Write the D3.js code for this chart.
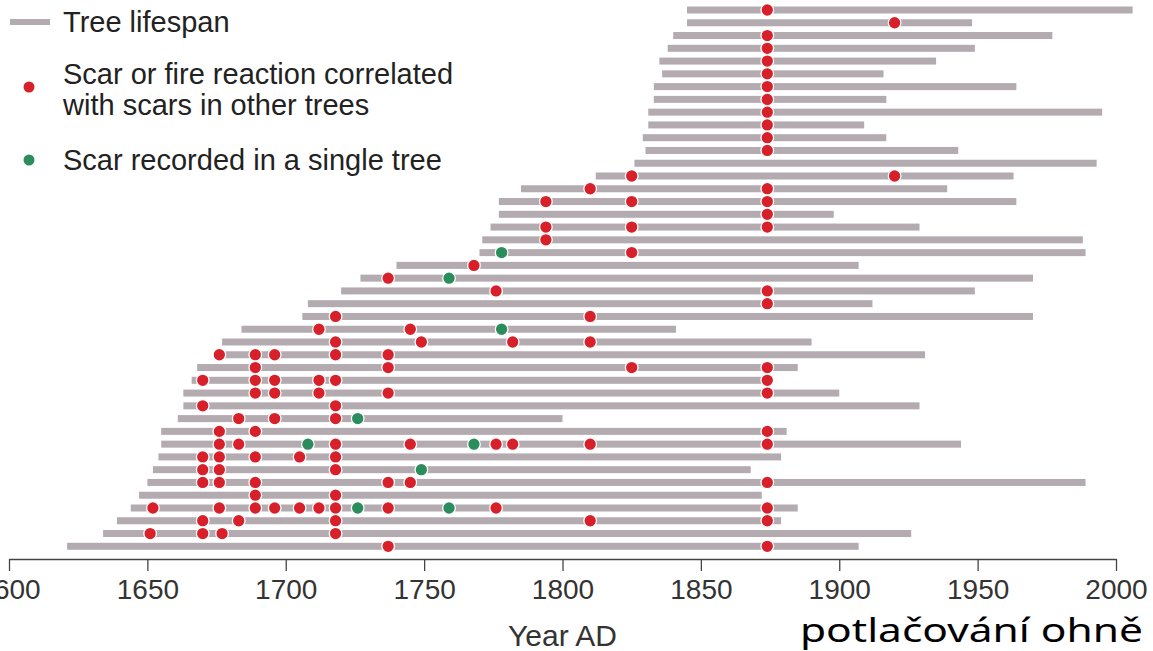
<!DOCTYPE html>
<html>
<head>
<meta charset="utf-8">
<script src="https://cdn.jsdelivr.net/npm/d3@7"></script>
<style>
  body { margin: 0; background: #fff; }
  svg { display: block; }
</style>
</head>
<body>
<div id="chart"></div>
<script>
// tree lifespans, top row first (years AD)
var lifeStart = [1845, 1845, 1840, 1838, 1835, 1836, 1833, 1833, 1831, 1831, 1829, 1830, 1826,
  1812, 1785, 1777, 1777, 1774, 1771, 1770, 1740, 1727, 1720, 1708, 1706, 1684, 1677,
  1674, 1668, 1666, 1663, 1663, 1661, 1655, 1655, 1654, 1652, 1650, 1647, 1644, 1639, 1634, 1621];
var lifeEnd = [2006, 1948, 1977, 1949, 1935, 1916, 1964, 1917, 1995, 1909, 1917, 1943, 1993,
  1963, 1939, 1964, 1898, 1929, 1988, 1989, 1907, 1970, 1949, 1912, 1970, 1841, 1890,
  1931, 1885, 1876, 1900, 1929, 1800, 1881, 1944, 1879, 1868, 1989, 1872, 1885, 1879, 1926, 1907];

// scars correlated with other trees (red)
var fireScars = [
  [1874], [1920], [1874], [1874], [1874], [1874], [1874], [1874], [1874], [1874], [1874], [1874], [],
  [1825, 1920], [1810, 1874], [1794, 1825, 1874], [1874], [1794, 1825, 1874], [1794], [1825],
  [1768], [1737], [1776, 1874], [1874], [1718, 1810], [1712, 1745], [1718, 1749, 1782, 1810],
  [1676, 1689, 1696, 1718, 1737], [1689, 1737, 1825, 1874], [1670, 1689, 1696, 1712, 1718, 1874],
  [1689, 1696, 1712, 1737, 1874], [1670, 1718], [1683, 1696, 1718], [1676, 1689, 1874],
  [1676, 1683, 1718, 1745, 1776, 1782, 1810, 1874], [1670, 1676, 1689, 1705, 1718],
  [1670, 1676, 1718], [1670, 1676, 1689, 1737, 1745, 1874], [1689, 1718],
  [1652, 1676, 1689, 1696, 1705, 1712, 1718, 1737, 1776, 1874], [1670, 1683, 1718, 1810, 1874],
  [1651, 1670, 1677, 1718], [1737, 1874]
];

// scars found in one tree only (green)
var singleScars = [
  [], [], [], [], [], [], [], [], [], [], [], [], [],
  [], [], [], [], [], [], [1778],
  [], [1759], [], [], [], [1778], [],
  [], [], [],
  [], [], [1726], [],
  [1708, 1768], [],
  [1749], [], [],
  [1726, 1759], [],
  [], []
];

var yearTicks = [1600, 1650, 1700, 1750, 1800, 1850, 1900, 1950, 2000];

var legendItems = ["Tree lifespan", "Scar or fire reaction correlated", "with scars in other trees",
  "Scar recorded in a single tree"];

var w = 1153;
var h = 651;
var barColor = "#b3abb0";
var redColor = "#d8202b";
var greenColor = "#2b8c5c";
var font = "'Liberation Sans', Arial, sans-serif";

var svg = d3.select("#chart")
  .append("svg")
  .attr("width", w)
  .attr("height", h);

var x = d3.scaleLinear().domain([1600, 2000]).range([9, 1116]);
var y = d3.scaleLinear().domain([0, lifeStart.length - 1]).range([10, 546.3]);

var rows = lifeStart.map(function(s, i) {
  return { start: s, end: lifeEnd[i], red: fireScars[i], green: singleScars[i], i: i };
});

// lifespans
svg.append("g")
  .selectAll("rect")
  .data(rows)
  .enter()
  .append("rect")
  .attr("x", function(d) { return x(d.start); })
  .attr("y", function(d) { return y(d.i) - 3.5; })
  .attr("width", function(d) { return x(d.end) - x(d.start); })
  .attr("height", 7)
  .attr("fill", barColor);

function dots(key, color) {
  var pts = [];
  rows.forEach(function(r) {
    r[key].forEach(function(yr) { pts.push({ year: yr, i: r.i }); });
  });
  svg.append("g")
    .selectAll("circle")
    .data(pts)
    .enter()
    .append("circle")
    .attr("cx", function(d) { return x(d.year); })
    .attr("cy", function(d) { return y(d.i); })
    .attr("r", 6.3)
    .attr("fill", color)
    .attr("stroke", "#fff")
    .attr("stroke-width", 1.3);
}
dots("red", redColor);
dots("green", greenColor);

// axis
var axis = svg.append("g")
  .attr("transform", "translate(0,559)")
  .call(d3.axisBottom(x).tickValues(yearTicks).tickSize(12).tickSizeOuter(0).tickPadding(8)
    .tickFormat(d3.format("d")));
axis.select(".domain").attr("stroke", "#444").attr("stroke-width", 1.5);
axis.selectAll(".tick line").attr("stroke", "#444").attr("stroke-width", 1.3);
axis.selectAll(".tick text")
  .attr("fill", "#333")
  .style("font-family", font)
  .style("font-size", "28px");

svg.append("text")
  .attr("x", x(1800))
  .attr("y", 646)
  .attr("text-anchor", "middle")
  .attr("fill", "#333")
  .style("font-family", font)
  .style("font-size", "30px")
  .text("Year AD");

svg.append("text")
  .attr("x", 1143)
  .attr("y", 642)
  .attr("text-anchor", "end")
  .attr("fill", "#000")
  .attr("textLength", 343)
  .attr("lengthAdjust", "spacingAndGlyphs")
  .style("font-family", "'Noto Sans', sans-serif")
  .style("font-size", "33px")
  .text("potlačování ohně");

// legend
var lg = svg.append("g").style("font-family", font)
  .style("font-size", "29px").attr("fill", "#222");
lg.append("line").attr("x1", 10).attr("x2", 50).attr("y1", 22).attr("y2", 22)
  .attr("stroke", barColor).attr("stroke-width", 6);
lg.append("circle").attr("cx", 29).attr("cy", 87).attr("r", 5.5).attr("fill", redColor);
lg.append("circle").attr("cx", 29).attr("cy", 160).attr("r", 5.5).attr("fill", greenColor);
var legendY = [32, 84, 115, 170];
lg.selectAll("text")
  .data(legendItems)
  .enter()
  .append("text")
  .attr("x", 63)
  .attr("y", function(d, i) { return legendY[i]; })
  .text(function(d) { return d; });
</script>
</body>
</html>
